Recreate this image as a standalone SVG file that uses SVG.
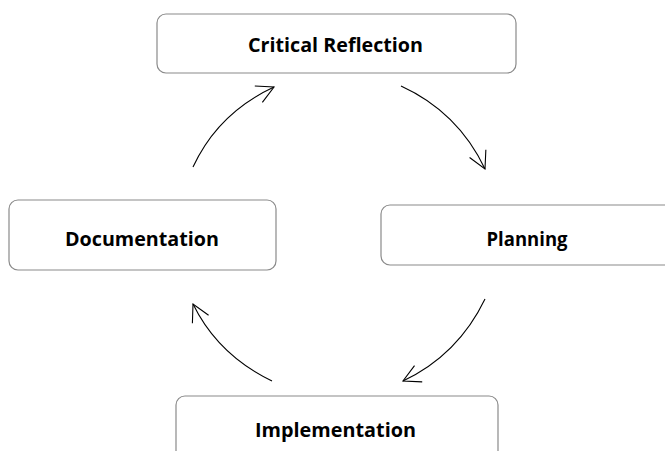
<svg xmlns="http://www.w3.org/2000/svg" width="665" height="451" viewBox="0 0 665 451">
<style>
.box{fill:#fff;stroke:#8a8a8a;stroke-width:1.2}
.lbl{font-family:"Open Sans","Liberation Sans",sans-serif;font-weight:bold;font-size:20px;fill:#000;text-anchor:middle}
.arc{fill:none;stroke:#000;stroke-width:1.1;marker-end:url(#ah)}
</style>
<defs>
<marker id="ah" viewBox="0 0 22 22" refX="20" refY="11" markerWidth="22" markerHeight="22" markerUnits="userSpaceOnUse" orient="auto">
<path d="M3,2 L20,11 L3,20" fill="none" stroke="#000" stroke-width="1.1"/>
</marker>
</defs>
<rect width="665" height="451" fill="#fff"/>
<g id="critical-reflection">
<rect class="box" x="157" y="14" width="359" height="59" rx="9"/>
<text class="lbl" x="335.5" y="52" textLength="175" lengthAdjust="spacingAndGlyphs">Critical Reflection</text>
</g>
<g id="planning">
<rect class="box" x="381" y="205" width="300" height="60" rx="9"/>
<text class="lbl" x="527" y="246" textLength="81" lengthAdjust="spacingAndGlyphs">Planning</text>
</g>
<g id="implementation">
<rect class="box" x="176" y="396" width="322" height="70" rx="9"/>
<text class="lbl" x="335.5" y="437" textLength="161" lengthAdjust="spacingAndGlyphs">Implementation</text>
</g>
<g id="documentation">
<rect class="box" x="9" y="200" width="267" height="70" rx="9"/>
<text class="lbl" x="142" y="246" textLength="154" lengthAdjust="spacingAndGlyphs">Documentation</text>
</g>
<g id="connectors">
<path class="arc" d="M193,167 Q218,113 274,87"/>
<path class="arc" d="M401,86 Q458,112 485,169"/>
<path class="arc" d="M485,299 Q458,355 403,381"/>
<path class="arc" d="M272,381 Q218,355 193,304"/>
</g>
</svg>
